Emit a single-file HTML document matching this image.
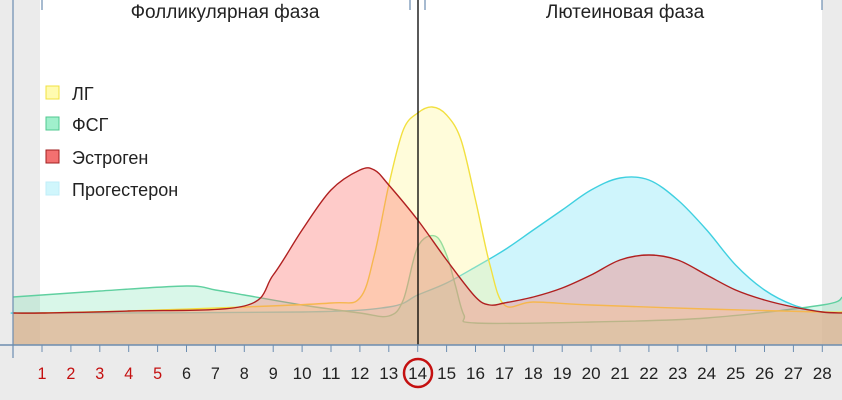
<!DOCTYPE html>
<html><head><meta charset="utf-8"><style>
html,body{margin:0;padding:0;background:#ebebeb;}
svg{display:block;font-family:"Liberation Sans",sans-serif;}
</style></head><body>
<svg id="chart" width="842" height="400" viewBox="0 0 842 400" xmlns="http://www.w3.org/2000/svg">
<rect x="0" y="0" width="842" height="400" fill="#ebebeb"/>
<rect x="40" y="0" width="782" height="345" fill="#ffffff"/>
<g id="series"></g>
<line x1="418" y1="0" x2="418" y2="345" stroke="#000" stroke-width="1.3"/>
<line x1="0" y1="345" x2="842" y2="345" stroke="#6c8db0" stroke-width="1.5"/>
<line x1="13" y1="0" x2="13" y2="358" stroke="#6c8db0" stroke-width="1.2"/>
<g id="ticks"></g>
<g stroke="#6c8db0" stroke-width="1.2">
<line x1="42" y1="0" x2="42" y2="10"/><line x1="410" y1="0" x2="410" y2="10"/>
<line x1="425" y1="0" x2="425" y2="10"/><line x1="822" y1="0" x2="822" y2="10"/>
</g>
<text x="225" y="18" text-anchor="middle" font-size="19" fill="#222">Фолликулярная фаза</text>
<text x="625" y="18" text-anchor="middle" font-size="19" fill="#222">Лютеиновая фаза</text>
<g font-size="18" fill="#222">
<g><rect x="46" y="86" width="13" height="13" fill="#fffbb0" stroke="#f0e040"/><text x="72" y="100">ЛГ</text></g>
<g><rect x="46" y="117" width="13" height="13" fill="#a0f0cc" stroke="#50c890"/><text x="72" y="131">ФСГ</text></g>
<g><rect x="46" y="150" width="13" height="13" fill="#f37070" stroke="#a02020"/><text x="72" y="164">Эстроген</text></g>
<g><rect x="46" y="182" width="13" height="13" fill="#d0f6fc" stroke="#c0eef8"/><text x="72" y="196">Прогестерон</text></g>
</g>
<circle cx="418" cy="373" r="14" fill="none" stroke="#c41010" stroke-width="2.5"/>
</svg>
<script>
const days = [1,2,3,4,5,6,7,8,9,10,11,12,13,14,15,16,17,18,19,20,21,22,23,24,25,26,27,28];
const redDays = [1,2,3,4,5];
const lhX = [0,1,4,8,11,12,12.5,13,13.5,14,14.5,15,15.5,16,16.5,17,18,20,24,28,28.7];
const lhV = [32,32,34,38,42,47,90,160,215,232,238,230,205,145,80,40,43,40,36,33,33];
const fshX = [0,1,3,6,7,8,10,12,13,13.5,14,14.6,15,15.3,15.6,16,20,24,28,28.7];
const fshV = [48,50,54,59,55,50,40,32,29,45,98,109,90,60,30,22,23,27,40,48];
const estX = [0,1,4,8,9,10,11,12,12.5,13,14,15,16,16.5,17,18,19,20,21,22,23,24,25,26,27,28,28.7];
const estV = [32,32,34,39,70,115,155,175,175,160,125,85,48,40,42,48,57,70,85,90,85,70,55,45,38,33,32];
const proX = [0,1,10,13,14,15,16,17,18,19,20,21,22,23,24,25,26,27,28,28.7];
const proV = [32,32,33,38,50,62,78,95,115,135,155,167,165,145,115,80,55,40,33,32];

const xs = d => 42 + (d-1)*28.9;
const ys = v => 345 - v;
const NS = "http://www.w3.org/2000/svg";

function smooth(px, py){
  const p = px.map((x,i)=>[xs(x), ys(py[i])]);
  let d = "M"+p[0][0]+","+p[0][1];
  for(let i=0;i<p.length-1;i++){
    const p0=p[Math.max(0,i-1)],p1=p[i],p2=p[i+1],p3=p[Math.min(p.length-1,i+2)];
    const t=6;
    d+=" C"+(p1[0]+(p2[0]-p0[0])/t)+","+(p1[1]+(p2[1]-p0[1])/t)+" "+(p2[0]-(p3[0]-p1[0])/t)+","+(p2[1]-(p3[1]-p1[1])/t)+" "+p2[0]+","+p2[1];
  }
  return {d, first:p[0], last:p[p.length-1]};
}
const g = document.getElementById('series');
function series(name, px, py, fill, stroke){
  const s = smooth(px, py);
  const a = document.createElementNS(NS,'path');
  
  
  a.setAttribute('d', s.d+" L"+s.last[0]+",345 L"+s.first[0]+",345 Z");
  a.setAttribute('fill', fill);
  g.appendChild(a);
  const l = document.createElementNS(NS,'path');
  
  
  l.setAttribute('d', s.d);
  l.setAttribute('fill','none');
  l.setAttribute('stroke', stroke);
  l.setAttribute('stroke-width','1.4');
  g.appendChild(l);
}
series('progesterone', proX, proV, 'rgba(130,228,248,0.38)', '#40d0e0');
series('fsh', fshX, fshV, 'rgba(120,225,175,0.28)', '#60d0a0');
series('lh', lhX, lhV, 'rgba(255,245,150,0.35)', '#f2e040');
series('estrogen', estX, estV, 'rgba(252,110,105,0.36)', '#b02020');

const t = document.getElementById('ticks');
days.forEach(d=>{
  const ln = document.createElementNS(NS,'line');
  
  
  ln.setAttribute('x1', xs(d)); ln.setAttribute('x2', xs(d));
  ln.setAttribute('y1', 345); ln.setAttribute('y2', 352);
  ln.setAttribute('stroke','#6c8db0');
  t.appendChild(ln);
  const tx = document.createElementNS(NS,'text');
  
  
  tx.setAttribute('x', xs(d)); tx.setAttribute('y', 379);
  tx.setAttribute('text-anchor','middle');
  tx.setAttribute('font-size','17');
  tx.setAttribute('textLength', d>=10 ? 19 : 9);
  tx.setAttribute('lengthAdjust','spacingAndGlyphs');
  tx.setAttribute('fill', redDays.includes(d) ? '#c41010' : '#222');
  tx.textContent = d;
  t.appendChild(tx);
});
</script>
</body></html>
